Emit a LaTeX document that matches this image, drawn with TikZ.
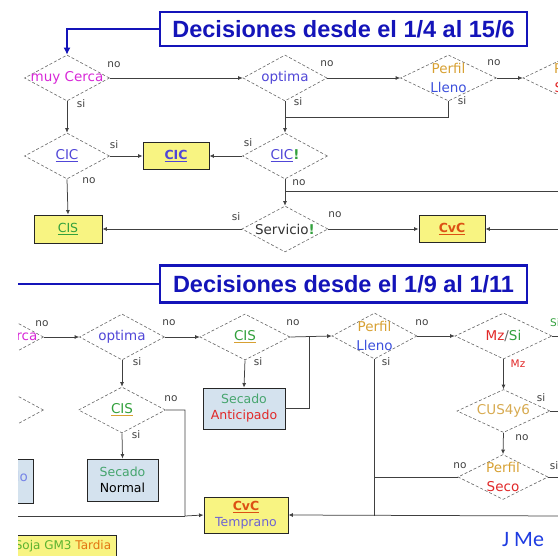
\documentclass[tikz,border=0pt]{standalone}
\usepackage{fontspec}
\setmainfont{DejaVu Sans}
\newfontfamily\titlefont{Liberation Sans}
\newfontfamily\calib{Carlito}
\usetikzlibrary{shapes.geometric,arrows.meta}
\definecolor{tblue}{RGB}{20,20,185}
\definecolor{cmag}{RGB}{215,40,215}
\definecolor{cviol}{RGB}{80,70,215}
\definecolor{corange}{RGB}{215,160,50}
\definecolor{cblue}{RGB}{60,80,220}
\definecolor{cgreen}{RGB}{50,160,60}
\definecolor{csgreen}{RGB}{70,165,110}
\definecolor{cred}{RGB}{225,40,40}
\definecolor{ccvc}{RGB}{220,80,20}
\definecolor{ccus}{RGB}{215,170,80}
\definecolor{ctemp}{RGB}{110,100,210}
\definecolor{yfill}{RGB}{248,244,130}
\definecolor{bfill}{RGB}{212,226,238}
\definecolor{jblue}{RGB}{30,60,225}
\begin{document}
\begin{tikzpicture}[x=1pt,y=-1pt,
  dia/.style={diamond, draw=black!60, densely dashed, line width=0.6pt, inner sep=0pt, minimum width=#1, minimum height=46pt},
  dia/.default=86pt,
  dtxt/.style={font=\fontsize{13.5}{19}\selectfont, align=center, inner sep=0pt},
  lbl/.style={font=\fontsize{10.5}{12}\selectfont, text=black!75, inner sep=0pt},
  arr/.style={draw=black!75, line width=0.75pt, -{Latex[length=4.5pt,width=4pt]}},
  ln/.style={draw=black!75, line width=0.75pt},
  blueline/.style={draw=tblue, line width=2.6pt},
  ybox/.style={draw=black!85, line width=0.9pt, fill=yfill, minimum width=66pt, minimum height=27pt, inner sep=0pt, font=\fontsize{12.5}{16}\selectfont, align=center},
  bbox/.style={draw=black!85, line width=0.9pt, fill=bfill, inner sep=0pt, font=\fontsize{12.5}{16}\selectfont, align=center},
  titlebox/.style={draw=tblue, line width=2.6pt, fill=white, minimum width=367pt, inner sep=0pt, font=\titlefont\bfseries\fontsize{23.5}{26}\selectfont, text=tblue}
]
\useasboundingbox (0,0) rectangle (558,556);
\begin{scope}
\clip (18,0) rectangle (558,556);
% ================= top section =================
\node[dia=85pt] (muy) at (67,78) {};
\node[dtxt, text=cmag] (muyT) at (muy) {muy Cerca};
\node[titlebox, minimum height=34pt] (t1) at (343.5,29) {Decisiones desde el 1/4 al 15/6};
\draw[blueline, -{Latex[length=7pt,width=7pt]}] (t1.west) -| (muy.north);
\node[dia=84pt] (opt) at (285,78) {};
\node[dtxt, text=cviol] (optT) at (opt) {optima};
\node[dia=96pt] (pl) at (448.5,78) {};
\node[dtxt] (plT) at (pl) {\textcolor{corange}{Perfil}\\\textcolor{cblue}{Lleno}};
\node[dia=96pt] (ps) at (571,78) {};
\node[dtxt] (psT) at (ps) {\textcolor{corange}{Perfil}\\\textcolor{cred}{Seco}};
\node[dia=85pt] (cic) at (67,156) {};
\node[dtxt, text=cviol] (cicT) at (cic) {\underline{CIC}};
\node[ybox] (cicB) at (176,156) {\textcolor{cviol}{\bfseries\underline{CIC}}};
\node[dia=85pt] (cic2) at (285,156) {};
\node[dtxt] (cic2T) at (cic2) {\textcolor{cviol}{\underline{CIC}}\textcolor{cgreen}{\bfseries !}};
\node[ybox, minimum width=68pt, minimum height=28pt] (cisB) at (68,229) {\textcolor{cgreen}{\underline{CIS}}};
\node[dia=86pt] (serv) at (285,229) {};
\node[dtxt, text=black!80] (servT) at (serv) {Servicio\textcolor{cgreen}{\bfseries !}};
\node[ybox, minimum width=66pt] (cvcB) at (452,229) {\textcolor{ccvc}{\bfseries\underline{CvC}}};
\coordinate (j1) at (448.5,117);
\coordinate (j2) at (285,117);
\coordinate (j3) at (285,191);
\coordinate (r1) at (562,191);
\coordinate (r2) at (562,229);

\draw[arr] (muy.east) -- (opt.west);
\draw[arr] (opt.east) -- (pl.west);
\draw[arr] (pl.east) -- (ps.west);
\draw[arr] (muy.south) -- (cic.north);
\draw[arr] (opt.south) -- (cic2.north);
\draw[ln] (pl.south) -- (j1) -- (j2);
\draw[arr] (cic.east) -- (cicB.west);
\draw[arr] (cic2.west) -- (cicB.east);
\draw[arr] (cic.south) -- (cisB.north);
\draw[arr] (cic2.south) -- (serv.north);
\draw[ln] (j3) -- (r1);
\draw[arr] (serv.west) -- (cisB.east);
\draw[arr] (serv.east) -- (cvcB.west);
\draw[arr] (r2) -- (cvcB.east);

\node[lbl] (l1) at (114,65) {no};
\node[lbl] (l2) at (81,104) {si};
\node[lbl] (l3) at (327,64) {no};
\node[lbl] (l4) at (298,102) {si};
\node[lbl] (l5) at (494,63) {no};
\node[lbl] (l6) at (462,101) {si};
\node[lbl] (l7) at (114,145) {si};
\node[lbl] (l8) at (89,181) {no};
\node[lbl] (l9) at (248,143) {si};
\node[lbl] (l10) at (299,183) {no};
\node[lbl] (l11) at (236,217) {si};
\node[lbl] (l12) at (335,215) {no};

% ================= bottom section =================
\node[titlebox, minimum height=37pt] (t2) at (343.5,284) {Decisiones desde el 1/9 al 1/11};
\coordinate (bl) at (10,284);
\draw[blueline] (t2.west) -- (bl);
\node[dia=85pt] (muy2) at (1,337) {};
\node[dtxt, text=cmag] (muy2T) at (muy2) {muy Cerca};
\node[dia=85pt] (opt2) at (122,337) {};
\node[dtxt, text=cviol] (opt2T) at (opt2) {optima};
\node[dia=90pt] (cis2) at (245,337) {};
\node[dtxt] (cis2T) at (cis2) {{\color{corange}\underline{\textcolor{cgreen}{CIS}}}};
\node[bbox, minimum width=82pt, minimum height=41pt] (sa) at (244,408.5) {\textcolor{csgreen}{Secado}\\\textcolor{cred}{Anticipado}};
\node[dia=85pt] (pl2) at (374.5,336) {};
\node[dtxt] (pl2T) at (pl2) {\textcolor{corange}{Perfil}\\\textcolor{cblue}{Lleno}};
\node[dia=97pt] (mz) at (503.5,336) {};
\node[dtxt] (mzT) at (mz) {\textcolor{cred}{Mz}\textcolor{black!60}{/}\textcolor{cgreen}{Si}};
\node[dia=93pt, minimum height=43pt] (cus) at (503.5,411) {};
\node[dtxt, text=ccus] (cusT) at (cus) {CUS4y6};
\node[dia=90pt, minimum height=45pt] (pseco) at (503,477) {};
\node[dtxt] (psecoT) at (pseco) {\textcolor{corange}{Perfil}\\\textcolor{cred}{Seco}};
\node[dia=85pt] (left2) at (1,410) {};
\node[dia=87pt] (cis3) at (122,410) {};
\node[dtxt] (cis3T) at (cis3) {{\color{corange}\underline{\textcolor{cgreen}{CIS}}}};
\node[bbox, minimum width=71pt, minimum height=42pt] (sn) at (122.5,480) {\textcolor{csgreen}{Secado}\\\textcolor{black}{Normal}};
\node[bbox, minimum width=86pt, minimum height=44pt] (leftbox) at (-10,481) {};
\node[dtxt, text=cblue!70, anchor=east] (leftboxT) at (28,476) {Secado};
\node[ybox, minimum width=84pt, minimum height=36pt] (cvct) at (246,515) {\textcolor{ccvc}{\bfseries\underline{CvC}}\\\textcolor{ctemp}{Temprano}};
\node[ybox, minimum width=117pt, minimum height=40pt, anchor=north east] (soja) at (117,535) {};
\node[font=\fontsize{12}{14}\selectfont, inner sep=0pt] (sojaT) at (63,546) {\textcolor{cgreen!80!yellow}{Soja GM3} \textcolor{ccvc!80!yellow}{Tardia}};

\coordinate (k1) at (309,337);
\coordinate (k2) at (374.5,477);
\coordinate (k3) at (374.5,516);
\coordinate (k4) at (185,410);
\coordinate (k5) at (185,516);
\coordinate (r3) at (562,336);
\coordinate (r4) at (562,411);
\coordinate (r5) at (562,477);
\coordinate (r6) at (562,516);
\coordinate (lft) at (10,516);

\draw[arr] (muy2.east) -- (opt2.west);
\draw[arr] (opt2.east) -- (cis2.west);
\draw[arr] (cis2.east) -- (pl2.west);
\draw[arr] (cis2.south) -- (sa.north);
\draw[ln] (sa.east) -| (k1);
\draw[arr] (pl2.east) -- (mz.west);
\draw[ln] (mz.east) -- (r3);
\draw[arr] (mz.south) -- (cus.north);
\draw[ln] (cus.east) -- (r4);
\draw[arr] (cus.south) -- (pseco.north);
\draw[ln] (pseco.east) -- (r5);
\draw[ln] (pseco.west) -- (k2);
\draw[ln] (pl2.south) -- (k3);
\draw[arr] (r6) -- (cvct.east);
\draw[arr] (opt2.south) -- (cis3.north);
\draw[arr] (cis3.south) -- (sn.north);
\draw[arr] (cis3.east) -- (k4) -- (k5) -- (cvct.west);
\draw[ln] (lft) -- (k5);

\node[lbl] (m1) at (42,324) {no};
\node[lbl] (m2) at (14,358) {si};
\node[lbl] (m3) at (169,323) {no};
\node[lbl] (m4) at (137,362) {si};
\node[lbl] (m5) at (293,323) {no};
\node[lbl] (m6) at (258,362) {si};
\node[lbl] (m7) at (422,323) {no};
\node[lbl] (m8) at (386,362) {si};
\node[lbl, text=cgreen] (m9) at (555,323) {Si};
\node[lbl, text=cred] (m10) at (518,364) {Mz};
\node[lbl] (m11) at (541,398) {si};
\node[lbl] (m12) at (522,438) {no};
\node[lbl] (m13) at (460,466) {no};
\node[lbl] (m14) at (554,466) {si};
\node[lbl] (m15) at (171,399) {no};
\node[lbl] (m16) at (136,435) {si};
\node[lbl] (m17) at (14,434) {si};

\node[font=\calib\fontsize{22}{24}\selectfont, text=jblue, anchor=base west, inner sep=0pt] (jme) at (502,547) {J Me};
\end{scope}
\end{tikzpicture}
\end{document}
